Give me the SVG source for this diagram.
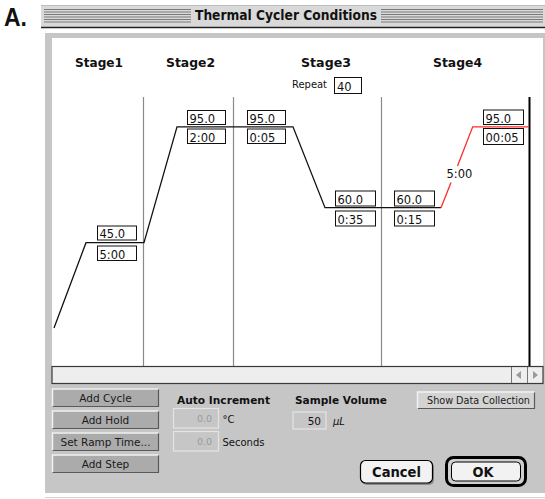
<svg xmlns="http://www.w3.org/2000/svg" width="545" height="499" viewBox="0 0 545 499">
  <defs>
    <style>
      .ui { font-family: "DejaVu Sans", "Liberation Sans", sans-serif; fill: #111; }
      .bold { font-weight: bold; }
      .box { fill: #ffffff; stroke: #111; stroke-width: 1; }
      .boxtxt { font-family: "DejaVu Sans", "Liberation Sans", sans-serif; font-size: 11.5px; fill: #111; }
      .div { stroke: #8a8a8a; stroke-width: 1.2; }
      .stripe { stroke: #7a7a7a; stroke-width: 1; }
      .btn { fill: #ababab; }
      .hl { stroke: #f2f2f2; stroke-width: 1.5; fill: none; }
      .sh { stroke: #5a5a5a; stroke-width: 1.2; fill: none; }
      .btntxt { font-family: "DejaVu Sans", "Liberation Sans", sans-serif; font-size: 10.5px; fill: #1a1a1a; text-anchor: middle; }
      .field { fill: #c6c6c6; stroke: #e4e4e4; stroke-width: 1.2; }
      .dim { font-family: "DejaVu Sans", "Liberation Sans", sans-serif; font-size: 9.5px; fill: #9a9a9a; text-anchor: end; }
      .prof { fill: none; stroke: #111; stroke-width: 1.3; }
      .red { fill: none; stroke: #ff2a2a; stroke-width: 1.3; }
    </style>
  </defs>

  <!-- figure label -->
  <text x="4" y="26" font-family="Liberation Sans, Arial, sans-serif" font-weight="bold" font-size="25" textLength="23" lengthAdjust="spacingAndGlyphs" fill="#111">A.</text>

  <!-- title bar -->
  <g id="titlebar">
    <rect x="41" y="5" width="504" height="23" fill="#d9d9d9"/>
    <line x1="41" y1="5.5" x2="545" y2="5.5" stroke="#bdbdbd"/>
    <g class="stripe">
      <line x1="44" y1="9.5" x2="191" y2="9.5"/>
      <line x1="44" y1="12" x2="191" y2="12"/>
      <line x1="44" y1="14.5" x2="191" y2="14.5"/>
      <line x1="44" y1="17" x2="191" y2="17"/>
      <line x1="44" y1="19.5" x2="191" y2="19.5"/>
      <line x1="44" y1="22" x2="191" y2="22"/>
      <line x1="381" y1="9.5" x2="543" y2="9.5"/>
      <line x1="381" y1="12" x2="543" y2="12"/>
      <line x1="381" y1="14.5" x2="543" y2="14.5"/>
      <line x1="381" y1="17" x2="543" y2="17"/>
      <line x1="381" y1="19.5" x2="543" y2="19.5"/>
      <line x1="381" y1="22" x2="543" y2="22"/>
    </g>
    <line x1="41" y1="27.5" x2="545" y2="27.5" stroke="#222" stroke-width="1.5"/>
    <text class="ui bold" x="195" y="20" font-size="13.5" textLength="182" lengthAdjust="spacingAndGlyphs">Thermal Cycler Conditions</text>
  </g>

  <!-- window panel -->
  <g id="panel">
    <rect x="45" y="33" width="500" height="460" fill="#c6c6c6"/>
    <rect x="52" y="38" width="491" height="328" fill="#ffffff"/>
    <line x1="45" y1="497.5" x2="545" y2="497.5" stroke="#d4d4d4"/>
  </g>

  <!-- stage headers -->
  <g id="stage1-label"><text class="ui bold" x="75" y="67" font-size="12.5" textLength="48" lengthAdjust="spacingAndGlyphs">Stage1</text></g>
  <g id="stage2-label"><text class="ui bold" x="166" y="67" font-size="12.5" textLength="49" lengthAdjust="spacingAndGlyphs">Stage2</text></g>
  <g id="stage3-label"><text class="ui bold" x="301" y="67" font-size="12.5" textLength="50" lengthAdjust="spacingAndGlyphs">Stage3</text></g>
  <g id="stage4-label"><text class="ui bold" x="433" y="67" font-size="12.5" textLength="49" lengthAdjust="spacingAndGlyphs">Stage4</text></g>

  <g id="repeat">
    <text class="ui" x="292" y="88" font-size="10.5" textLength="35" lengthAdjust="spacingAndGlyphs">Repeat</text>
    <rect class="box" x="334.5" y="77.5" width="27" height="16"/>
    <text class="boxtxt" x="337" y="90.5">40</text>
  </g>

  <!-- stage dividers -->
  <g id="dividers">
    <line class="div" x1="143.5" y1="97" x2="143.5" y2="366"/>
    <line class="div" x1="233.5" y1="97" x2="233.5" y2="366"/>
    <line class="div" x1="381.5" y1="97" x2="381.5" y2="366"/>
    <line x1="529.5" y1="97" x2="529.5" y2="366" stroke="#000" stroke-width="2"/>
  </g>

  <!-- connectors: temperature profile -->
  <g id="connectors">
    <polyline class="prof" points="54,328 86,242.7 144,242.7 177,126.8 293,126.8 325,207.7 441,207.7"/>
    <polyline class="red" points="441,207.7 451,182.5"/>
    <polyline class="red" points="457.5,166 472.7,126.8 529,126.8"/>
  </g>

  <!-- step nodes -->
  <g id="step1">
    <rect class="box" x="97.5" y="226" width="39" height="14"/>
    <text class="boxtxt" x="99.5" y="238">45.0</text>
    <rect class="box" x="97.5" y="246" width="39" height="14.5"/>
    <text class="boxtxt" x="99.5" y="258.5">5:00</text>
  </g>
  <g id="step2">
    <rect class="box" x="187.5" y="110.5" width="38" height="14"/>
    <text class="boxtxt" x="189.5" y="122.5">95.0</text>
    <rect class="box" x="187.5" y="129" width="38" height="14.5"/>
    <text class="boxtxt" x="189.5" y="141.5">2:00</text>
  </g>
  <g id="step3a">
    <rect class="box" x="247.5" y="110.5" width="38" height="14"/>
    <text class="boxtxt" x="249.5" y="122.5">95.0</text>
    <rect class="box" x="247.5" y="129" width="38" height="14.5"/>
    <text class="boxtxt" x="249.5" y="141.5">0:05</text>
  </g>
  <g id="step3b">
    <rect class="box" x="335.5" y="191" width="40" height="15"/>
    <text class="boxtxt" x="337.5" y="203.5">60.0</text>
    <rect class="box" x="335.5" y="211" width="40" height="15"/>
    <text class="boxtxt" x="337.5" y="223.5">0:35</text>
  </g>
  <g id="step4a">
    <rect class="box" x="394.5" y="191" width="40" height="15"/>
    <text class="boxtxt" x="396.5" y="203.5">60.0</text>
    <rect class="box" x="394.5" y="211" width="40" height="15"/>
    <text class="boxtxt" x="396.5" y="223.5">0:15</text>
  </g>
  <g id="ramp-label">
    <text class="boxtxt" x="446.5" y="178">5:00</text>
  </g>
  <g id="step4b">
    <rect class="box" x="483.5" y="110" width="40" height="14.5"/>
    <text class="boxtxt" x="485.5" y="122.5">95.0</text>
    <rect class="box" x="483.5" y="128.5" width="40" height="16"/>
    <text class="boxtxt" x="485.5" y="141.5">00:05</text>
  </g>

  <!-- scrollbar -->
  <g id="scrollbar">
    <rect x="52" y="366.5" width="491" height="17" fill="#eeeeee" stroke="#3a3a3a" stroke-width="1.2"/>
    <line x1="511.5" y1="367" x2="511.5" y2="383" stroke="#777"/>
    <line x1="527.5" y1="367" x2="527.5" y2="383" stroke="#777"/>
    <polygon points="516,375 521,371 521,379" fill="#9a9a9a"/>
    <polygon points="538,375 533,371 533,379" fill="#9a9a9a"/>
  </g>

  <!-- left buttons -->
  <g id="btn-add-cycle">
    <rect class="btn" x="52" y="388.5" width="107" height="18"/>
    <polyline class="hl" points="52.5,406 52.5,389 158.5,389"/>
    <polyline class="sh" points="53,406.5 158.5,406.5 158.5,389.5"/>
    <text class="btntxt" x="105.5" y="401.5">Add Cycle</text>
  </g>
  <g id="btn-add-hold">
    <rect class="btn" x="52" y="410.5" width="107" height="18.5"/>
    <polyline class="hl" points="52.5,428 52.5,411 158.5,411"/>
    <polyline class="sh" points="53,428.5 158.5,428.5 158.5,411.5"/>
    <text class="btntxt" x="105.5" y="423.5">Add Hold</text>
  </g>
  <g id="btn-set-ramp">
    <rect class="btn" x="52" y="432.5" width="107" height="18.5"/>
    <polyline class="hl" points="52.5,450 52.5,433 158.5,433"/>
    <polyline class="sh" points="53,450.5 158.5,450.5 158.5,433.5"/>
    <text class="btntxt" x="105.5" y="445.5">Set Ramp Time...</text>
  </g>
  <g id="btn-add-step">
    <rect class="btn" x="52" y="454.5" width="107" height="18.5"/>
    <polyline class="hl" points="52.5,472 52.5,455 158.5,455"/>
    <polyline class="sh" points="53,472.5 158.5,472.5 158.5,455.5"/>
    <text class="btntxt" x="105.5" y="467.5">Add Step</text>
  </g>

  <!-- auto increment -->
  <g id="auto-increment">
    <text class="ui bold" x="177" y="404" font-size="11" textLength="93" lengthAdjust="spacingAndGlyphs">Auto Increment</text>
    <rect class="field" x="173.5" y="408.5" width="45" height="19.5"/>
    <text class="dim" x="212" y="422">0.0</text>
    <text class="ui" x="222.5" y="422.5" font-size="10">°C</text>
    <rect class="field" x="173.5" y="431.5" width="45" height="19.5"/>
    <text class="dim" x="212" y="445">0.0</text>
    <text class="ui" x="222.5" y="446" font-size="10">Seconds</text>
  </g>

  <!-- sample volume -->
  <g id="sample-volume">
    <text class="ui bold" x="295" y="404" font-size="11" textLength="92" lengthAdjust="spacingAndGlyphs">Sample Volume</text>
    <rect class="field" x="293" y="412" width="33" height="17"/>
    <text class="ui" x="321" y="424.5" font-size="10.5" text-anchor="end">50</text>
    <text class="ui" x="333" y="424.5" font-size="10" font-style="italic">µL</text>
  </g>

  <!-- show data collection -->
  <g id="btn-show-data">
    <rect x="417" y="391.5" width="118" height="17" fill="#d3d3d3"/>
    <polyline class="hl" points="417.5,408 417.5,392 534.5,392"/>
    <polyline class="sh" points="418,408.5 534.5,408.5 534.5,392.5"/>
    <text class="btntxt" x="478.5" y="404" style="font-size:10px" textLength="103" lengthAdjust="spacingAndGlyphs">Show Data Collection</text>
  </g>

  <!-- cancel / ok -->
  <g id="btn-cancel">
    <rect x="362" y="462" width="72" height="23" rx="5" fill="#8a8a8a"/>
    <rect x="360.5" y="460.5" width="72" height="22.5" rx="5" fill="#f2f2f2" stroke="#000" stroke-width="1.2"/>
    <text class="ui bold" x="396.5" y="477" font-size="13.5" text-anchor="middle" textLength="49" lengthAdjust="spacingAndGlyphs">Cancel</text>
  </g>
  <g id="btn-ok">
    <rect x="446.5" y="457.5" width="79" height="28" rx="7" fill="#cfcfcf" stroke="#000" stroke-width="3"/>
    <rect x="451.5" y="462" width="69" height="19" rx="4" fill="#f2f2f2" stroke="#000" stroke-width="1"/>
    <text class="ui bold" x="483" y="477" font-size="13.5" text-anchor="middle" textLength="21" lengthAdjust="spacingAndGlyphs">OK</text>
  </g>
</svg>
